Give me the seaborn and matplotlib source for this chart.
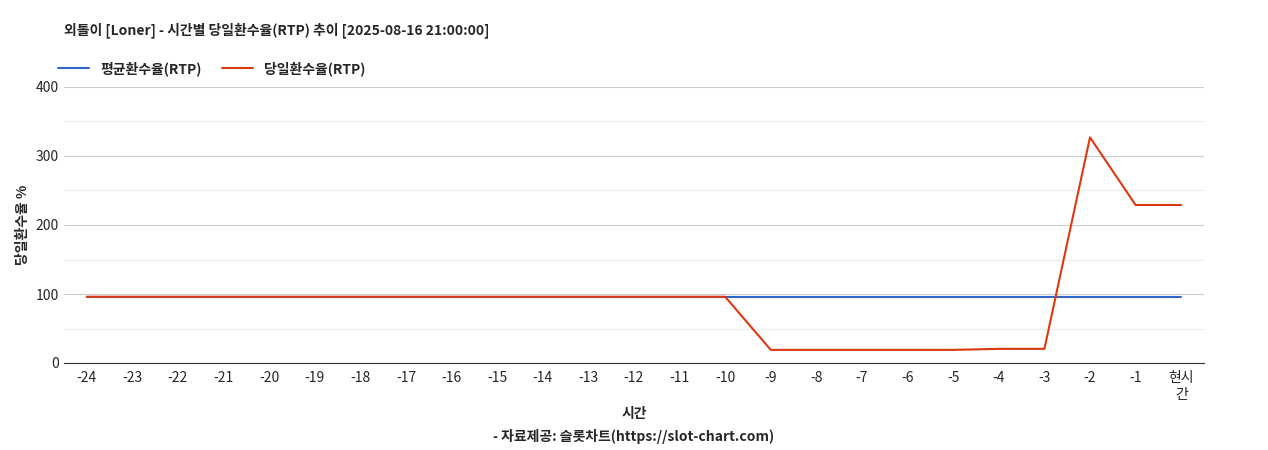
import matplotlib
matplotlib.use("Agg")
import matplotlib.pyplot as plt
import seaborn as sns
import pandas as pd

labels = [str(i) for i in range(-24, 0)] + ["현시\n간"]
avg_rtp = [96] * 25
day_rtp = [96]*15 + [19, 19, 19, 19, 19, 20.5, 20.5, 327, 229, 229]

sns.set_style("white")
plt.rcParams['font.family'] = ['Noto Sans CJK KR', 'DejaVu Sans']

df = pd.DataFrame({"x": range(25), "avg": avg_rtp, "day": day_rtp})
fig = plt.figure(figsize=(12.68, 4.5), dpi=100)
ax = fig.add_axes([64/1268, 1-363/450, 1140/1268, 276/450])
for y in range(50, 400, 100):
    ax.axhline(y, color="#ebebeb", lw=0.8, zorder=0)
for y in range(100, 401, 100):
    ax.axhline(y, color="#cccccc", lw=0.8, zorder=0)
sns.lineplot(data=df, x="x", y="avg", ax=ax, color="#3366cc", lw=1.5, label="평균환수율(RTP)")
sns.lineplot(data=df, x="x", y="day", ax=ax, color="#dc3912", lw=1.5, label="당일환수율(RTP)")
ax.set_ylim(0, 400)
ax.set_xlim(-0.5, 24.5)
ax.set_yticks([0, 100, 200, 300, 400])
ax.set_xticks(range(25))
ax.set_xticklabels(labels)
ax.tick_params(axis="both", labelsize=10, length=0)
ax.tick_params(axis="x", pad=6)
for s in ["top", "right", "left"]:
    ax.spines[s].set_visible(False)
ax.spines["bottom"].set_color("#333333")
ax.set_xlabel("시간", fontsize=10, fontweight="bold")
ax.set_ylabel("당일환수율 %", fontsize=10, fontweight="bold")
ax.legend(loc="lower left", bbox_to_anchor=(-0.005, 1.04), ncol=2, frameon=False,
          fontsize=10, prop={"weight": "bold", "size": 10}, handlelength=2.2, columnspacing=1.5,
          borderaxespad=0, borderpad=0)
fig.text(64/1268, 1-30/450, "외톨이 [Loner] - 시간별 당일환수율(RTP) 추이 [2025-08-16 21:00:00]",
         fontsize=10, fontweight="bold", va="center")
fig.text(634/1268, 1-437/450, "- 자료제공: 슬롯차트(https://slot-chart.com)", fontsize=10,
         fontweight="bold", ha="center", va="center")
fig.savefig("out.png", dpi=100)
